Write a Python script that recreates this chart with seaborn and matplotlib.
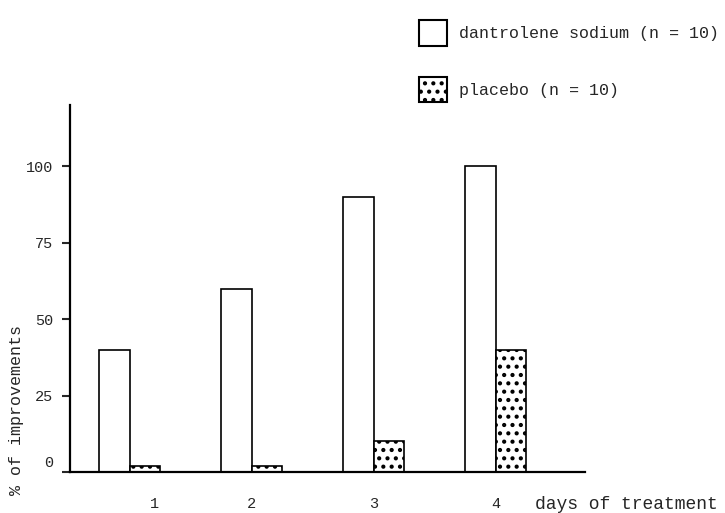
import pandas as pd
import matplotlib
matplotlib.use('Agg')
import matplotlib.pyplot as plt
import matplotlib.transforms as mtransforms
import seaborn as sns
from matplotlib.patches import Patch

# ── data ──────────────────────────────────────
days = ['1', '2', '3', '4']
dantrolene = [40, 60, 90, 100]
placebo = [2, 2, 10, 40]
y_ticks = [0, 25, 50, 75, 100]
groups = ['dantrolene sodium (n = 10)', 'placebo (n = 10)']

df = pd.DataFrame({
    'day': days * 2,
    'pct': dantrolene + placebo,
    'group': [groups[0]] * len(days) + [groups[1]] * len(days),
})

sns.set_style('white')
plt.rcParams['font.family'] = ['Liberation Mono', 'DejaVu Sans Mono']
plt.rcParams['hatch.linewidth'] = 1.8

fig = plt.figure(figsize=(7.25, 5.13), dpi=100)
ax = fig.add_axes([0.0966, 0.08, 0.71, 0.715])

sns.barplot(data=df, x='day', y='pct', hue='group', order=days, hue_order=groups,
            palette=['white', 'white'], width=0.5, edgecolor='black', linewidth=1.2,
            legend=False, ax=ax)

n = len(days)
for i, p in enumerate(ax.patches[:2 * n]):
    p.set_edgecolor('black')
    if i >= n:
        p.set_hatch('..')

ax.set_xlim(-0.49, 3.73)
ax.set_ylim(0, 120)
ax.set_yticks(y_ticks)
ax.set_yticklabels([str(t) for t in y_ticks], fontsize=11)
ax.set_xticks(range(n))
ax.set_xticklabels(days, fontsize=11)
ax.tick_params(axis='y', direction='out', length=6, width=1.5, left=True, pad=6)
ax.tick_params(axis='x', length=0, pad=18)
for s in ['top', 'right']:
    ax.spines[s].set_visible(False)
for s in ['left', 'bottom']:
    ax.spines[s].set_linewidth(1.6)
    ax.spines[s].set_color('black')

# small offsets of the hand-set labels in the original
xl = ax.get_xticklabels()[0]
xl.set_transform(xl.get_transform() + mtransforms.ScaledTranslation(0.25, 0, fig.dpi_scale_trans))
yl = ax.get_yticklabels()[0]
yl.set_transform(yl.get_transform() + mtransforms.ScaledTranslation(0, 0.1, fig.dpi_scale_trans))

ax.set_xlabel('')
ax.set_ylabel('% of improvements', fontsize=12)
ax.yaxis.set_label_coords(-0.09, 0.17)
ax.text(1.08, -0.1, 'days of treatment', transform=ax.transAxes, fontsize=13, ha='center')

handles = [Patch(facecolor='white', edgecolor='black', linewidth=1.5),
           Patch(facecolor='white', edgecolor='black', linewidth=1.5, hatch='..')]
fig.legend(handles, groups, loc='upper left', bbox_to_anchor=(0.557, 0.99),
           frameon=False, fontsize=12, handlelength=1.7, handleheight=2.0,
           labelspacing=1.85, handletextpad=0.7)

fig.savefig('out.png', dpi=100)
